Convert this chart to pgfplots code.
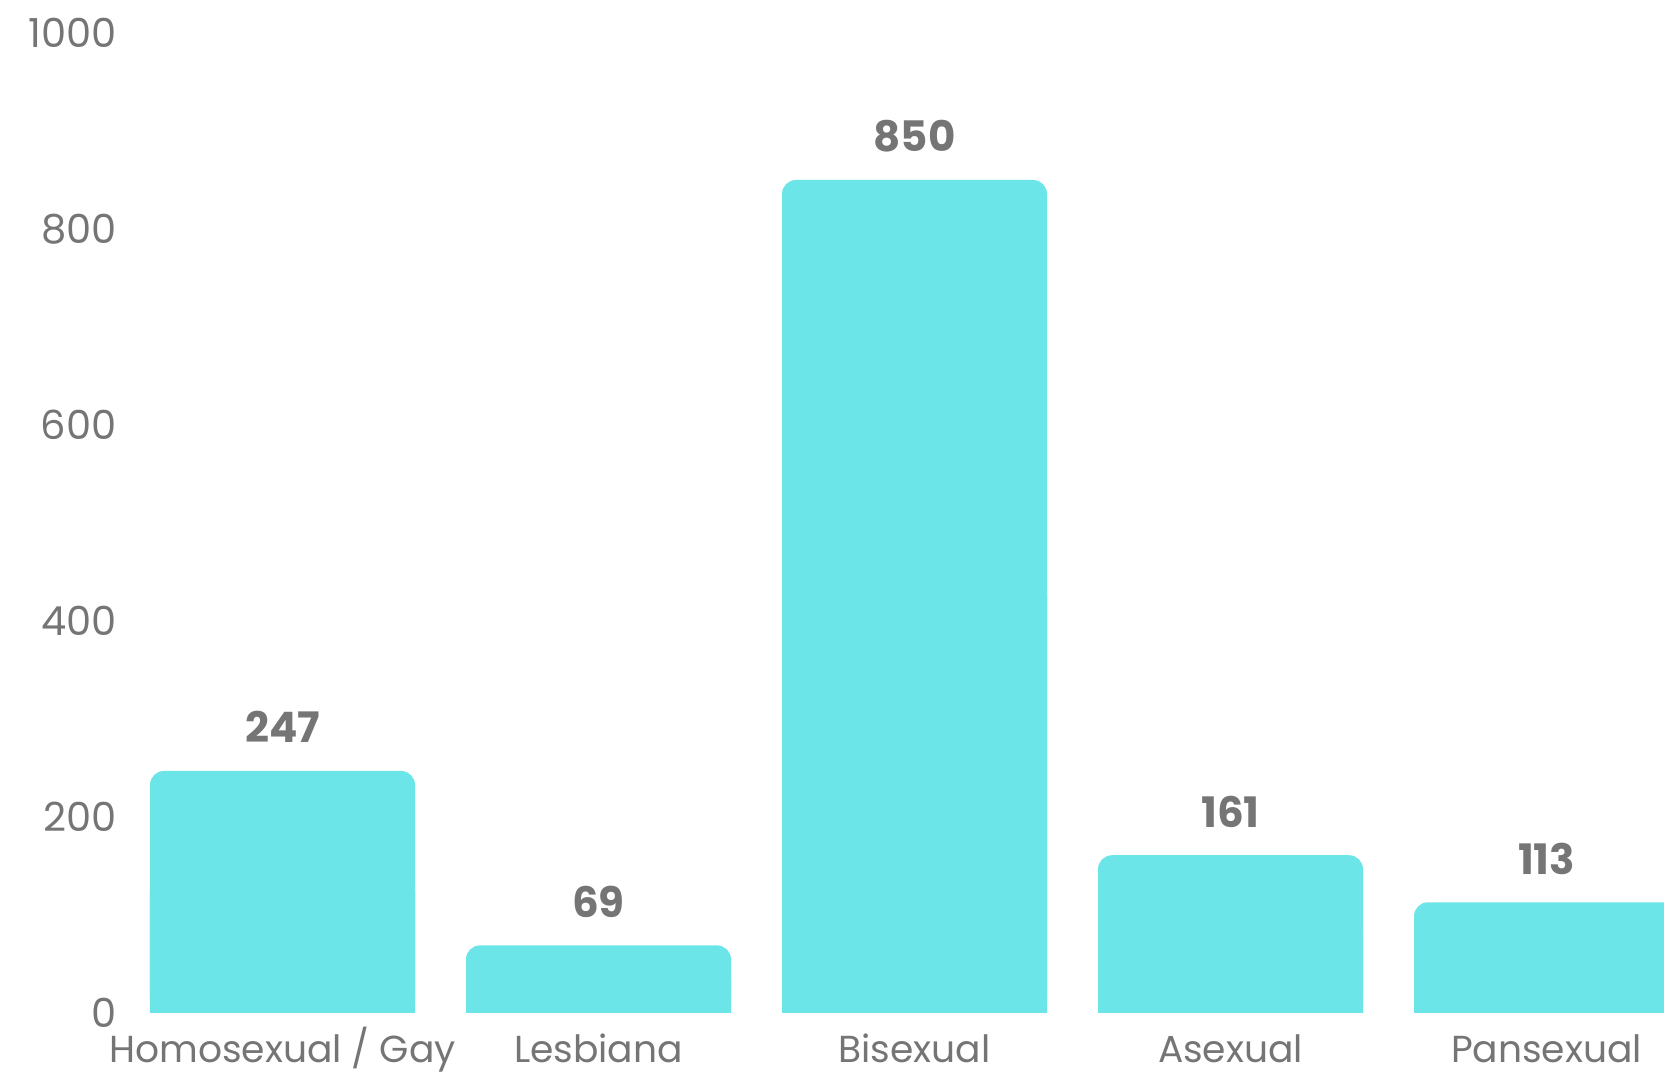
\documentclass[border=0pt]{standalone}
\usepackage{fontspec}
\setmainfont{Poppins}
\usepackage{pgfplots}
\usepackage{pgfplotstable}
\pgfplotsset{compat=1.18}
\definecolor{barc}{HTML}{6BE5E8}
\definecolor{txt}{HTML}{757575}
\pgfplotstableread{
x v
0 247
1 69
2 850
3 161
4 113
}\datatab
\begin{document}
\begin{tikzpicture}[font=\fontsize{20}{24}\selectfont]
\useasboundingbox (-65pt,-30.5pt) rectangle (767pt,506.5pt);
\begin{axis}[at={(0pt,0pt)}, anchor=south west, scale only axis,
  width=767pt, height=490pt,
  xmin=-0.4826, xmax=4.3718, ymin=0, ymax=1000,
  axis line style={draw=none}, tick style={draw=none},
  xtick={0,...,4},
  xticklabels={Homosexual / Gay, Lesbiana, Bisexual, Asexual, Pansexual},
  ytick={0,200,...,1000},
  tick label style={text=txt},
  yticklabel style={anchor=east, inner sep=0pt, xshift=-6.5pt},
  xticklabel style={anchor=base, inner sep=0pt, yshift=-25pt, font=\fontsize{18.8}{22}\selectfont},
  /pgf/number format/assume math mode=true,
  /pgf/number format/1000 sep={},
  clip=true]
\addplot[ybar, bar width=132.5pt, bar shift=0pt, fill=barc, draw=none, rounded corners=7pt,
  nodes near coords,
  nodes near coords style={anchor=base, inner sep=0pt, yshift=14pt, font=\fontsize{21}{24}\selectfont\bfseries, text=txt, rounded corners=0pt}]
  table[x=x, y=v] {\datatab};
\addplot[ybar, bar width=132.5pt, bar shift=0pt, fill=barc, draw=none]
  table[x=x, y expr=\thisrow{v}/2] {\datatab};
\end{axis}
\end{tikzpicture}
\end{document}
